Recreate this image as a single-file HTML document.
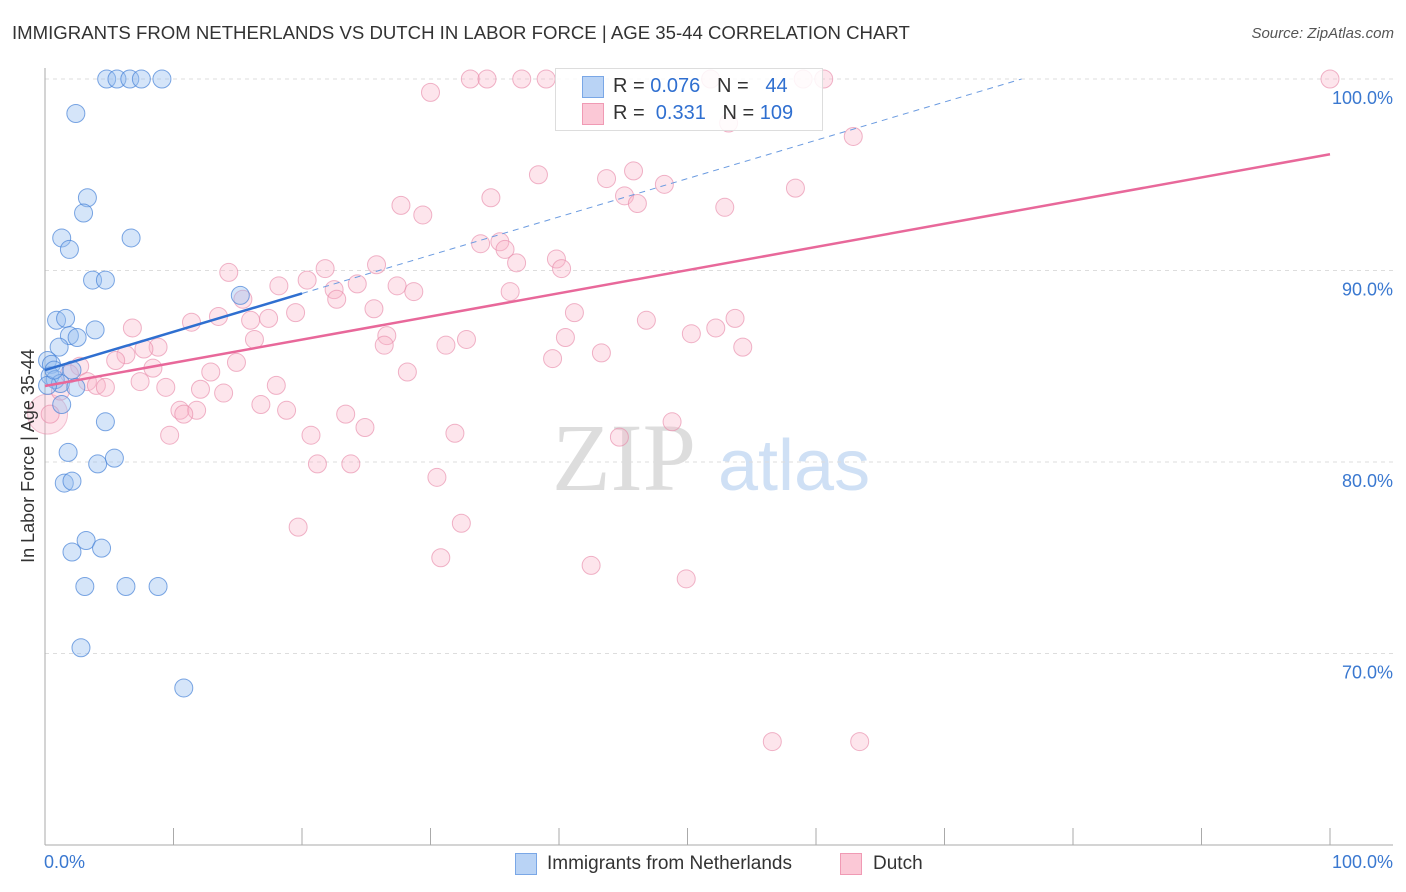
<!DOCTYPE html>
<html><head><meta charset="utf-8"><style>
body{margin:0;background:#fff;font-family:"Liberation Sans",sans-serif;}
#wrap{position:relative;width:1406px;height:892px;overflow:hidden;}
.t{position:absolute;white-space:nowrap;}
</style></head><body>
<div id="wrap">
<div class="t" style="left:12px;top:22px;font-size:18.6px;color:#333;">IMMIGRANTS FROM NETHERLANDS VS DUTCH IN LABOR FORCE | AGE 35-44 CORRELATION CHART</div>
<div class="t" style="right:12px;top:25px;font-size:15px;color:#555;font-style:italic;">Source: ZipAtlas.com</div>
<svg id="svg" width="1406" height="892" style="position:absolute;left:0;top:0">
<text x="552" y="490" font-family="Liberation Serif" font-size="96" fill="#ddd">ZIP</text>
<text x="718" y="490" font-family="Liberation Sans" font-size="72" fill="#cfe0f5">atlas</text>
<g id="grid"></g><g id="axes"></g><g id="pts"></g><g id="trend"></g>
<text transform="translate(34,456) rotate(-90)" text-anchor="middle" font-size="18" fill="#333">In Labor Force | Age 35-44</text>
</svg>
<div style="position:absolute;left:555px;top:68px;width:266px;height:61px;border:1px solid #ddd;background:rgba(255,255,255,0.85);font-size:20px;">
<div style="position:absolute;left:26px;top:7px;width:20px;height:20px;background:#b9d3f5;border:1px solid #7aa7e6"></div>
<div style="position:absolute;left:26px;top:34px;width:20px;height:20px;background:#fbc8d6;border:1px solid #f09ab4"></div>
<div class="t" style="left:57px;top:6px;color:#333">R = <span style="color:#2f6fd0">0.076</span>&nbsp;&nbsp;&nbsp;N = &nbsp;&nbsp;<span style="color:#2f6fd0">44</span></div>
<div class="t" style="left:57px;top:33px;color:#333">R = &nbsp;<span style="color:#2f6fd0">0.331</span>&nbsp;&nbsp;&nbsp;N = <span style="color:#2f6fd0">109</span></div>
</div>
<div class="t" style="left:44px;top:852px;font-size:18px;color:#3a78d0">0.0%</div>
<div class="t" style="right:13px;top:852px;font-size:18px;color:#3a78d0">100.0%</div>
<div style="position:absolute;left:515px;top:853px;width:20px;height:20px;background:#b9d3f5;border:1px solid #7aa7e6"></div>
<div class="t" style="left:547px;top:853px;font-size:19px;color:#333">Immigrants from Netherlands</div>
<div style="position:absolute;left:840px;top:853px;width:20px;height:20px;background:#fbc8d6;border:1px solid #f09ab4"></div>
<div class="t" style="left:873px;top:853px;font-size:19px;color:#333">Dutch</div>
</div>
<script>
const yTicks=[100,90,80,70];
const yTickLabels=["100.0%","90.0%","80.0%","70.0%"];
const blueX=[4.8,5.6,6.6,7.5,9.1,2.4,3.3,3.0,1.3,1.9,6.7,3.7,4.7,15.2,0.9,1.6,3.9,1.9,2.5,1.1,0.2,0.5,0.4,0.8,1.2,2.1,2.4,1.3,4.7,1.8,4.1,5.4,1.5,2.1,2.1,3.2,4.4,3.1,6.3,8.8,2.8,10.8,0.2,0.7];
const blueY=[100,100,100,100,100,98.2,93.8,93.0,91.7,91.1,91.7,89.5,89.5,88.7,87.4,87.5,86.9,86.6,86.5,86.0,85.3,85.1,84.5,84.3,84.1,84.8,83.9,83.0,82.1,80.5,79.9,80.2,78.9,79.0,75.3,75.9,75.5,73.5,73.5,73.5,70.3,68.2,84.0,84.8];
const pinkX=[33.1,34.4,37.1,39.0,51.8,59.0,60.6,100,30.0,53.2,62.9,38.4,45.8,43.7,48.2,58.4,45.1,34.7,46.1,27.7,29.4,52.9,33.9,35.4,35.8,39.8,36.7,40.2,25.8,21.8,14.3,18.2,20.4,24.3,27.4,28.7,22.5,22.7,15.4,36.2,25.6,19.5,41.2,17.4,13.5,16.0,11.4,46.8,53.7,52.2,50.3,6.8,40.5,32.8,31.2,16.3,26.6,26.4,54.3,43.3,8.8,7.7,6.3,39.5,5.5,14.9,8.4,12.9,28.2,2.7,1.9,3.3,4.0,4.7,7.4,18.0,9.4,12.1,13.9,1.2,0.4,10.5,11.8,10.8,16.8,18.8,23.4,24.9,48.8,20.7,31.9,9.7,44.7,21.2,23.8,30.5,19.7,32.4,30.8,42.5,49.9,56.6,63.4];
const pinkY=[100,100,100,100,100,100,100,100,99.3,97.7,97.0,95.0,95.2,94.8,94.5,94.3,93.9,93.8,93.5,93.4,92.9,93.3,91.4,91.5,91.1,90.6,90.4,90.1,90.3,90.1,89.9,89.2,89.5,89.3,89.2,88.9,89.0,88.5,88.5,88.9,88.0,87.8,87.8,87.5,87.6,87.4,87.3,87.4,87.5,87.0,86.7,87.0,86.5,86.4,86.1,86.4,86.6,86.1,86.0,85.7,86.0,85.9,85.6,85.4,85.3,85.2,84.9,84.7,84.7,85.0,84.6,84.2,84.0,83.9,84.2,84.0,83.9,83.8,83.6,83.7,82.5,82.7,82.7,82.5,83.0,82.7,82.5,81.8,82.1,81.4,81.5,81.4,81.3,79.9,79.9,79.2,76.6,76.8,75.0,74.6,73.9,65.4,65.4];
const blueTrend=[84.8,0.2];
const pinkTrend=[83.97,0.121];
const NS="http://www.w3.org/2000/svg";
const X=v=>45+v*12.85, Y=v=>79+(100-v)*19.15;
function mk(tag,attrs,parent){const e=document.createElementNS(NS,tag);for(const k in attrs)e.setAttribute(k,attrs[k]);document.getElementById(parent).appendChild(e);return e;}
yTicks.forEach((t,i)=>{
 const g=mk('line',{x1:45,x2:1393,y1:Y(t),y2:Y(t),stroke:'#ddd','stroke-dasharray':'4,4'},'grid');
 
 
 const l=mk('text',{x:1393,y:Y(t)+25,'text-anchor':'end','font-size':18,fill:'#3a78d0'},'grid');
 l.textContent=yTickLabels[i];
 
 
});
const ax=mk('line',{x1:45,x2:45,y1:68,y2:845,stroke:'#aaa'},'axes');


const bx=mk('line',{x1:45,x2:1393,y1:845,y2:845,stroke:'#aaa'},'axes');


for(let i=0;i<=10;i++){const tk=mk('line',{x1:X(i*10),x2:X(i*10),y1:828,y2:845,stroke:'#aaa'},'axes');
 
 }
const big=mk('circle',{cx:X(0.2),cy:Y(82.5),r:20,fill:'rgba(248,180,200,0.35)',stroke:'rgba(232,140,170,0.5)'},'pts');


pinkX.forEach((x,i)=>{const c=mk('circle',{cx:X(x),cy:Y(pinkY[i]),r:9,fill:'rgba(248,180,200,0.35)',stroke:'rgba(232,140,170,0.65)'},'pts');
 
 });
blueX.forEach((x,i)=>{const c=mk('circle',{cx:X(x),cy:Y(blueY[i]),r:9,fill:'rgba(150,190,240,0.4)',stroke:'rgba(70,130,215,0.7)'},'pts');
 
 });
const bl=mk('line',{x1:X(0),y1:Y(blueTrend[0]),x2:X(20),y2:Y(blueTrend[0]+blueTrend[1]*20),stroke:'#2f6fd0','stroke-width':2.5},'trend');


const xe=(100-blueTrend[0])/blueTrend[1];
const bd=mk('line',{x1:X(20),y1:Y(blueTrend[0]+blueTrend[1]*20),x2:X(xe),y2:Y(100),stroke:'#6b9be0','stroke-width':1,'stroke-dasharray':'6,5'},'trend');


const pl=mk('line',{x1:X(0),y1:Y(pinkTrend[0]),x2:X(100),y2:Y(pinkTrend[0]+pinkTrend[1]*100),stroke:'#e8689a','stroke-width':2.5},'trend');


</script>
</body></html>
